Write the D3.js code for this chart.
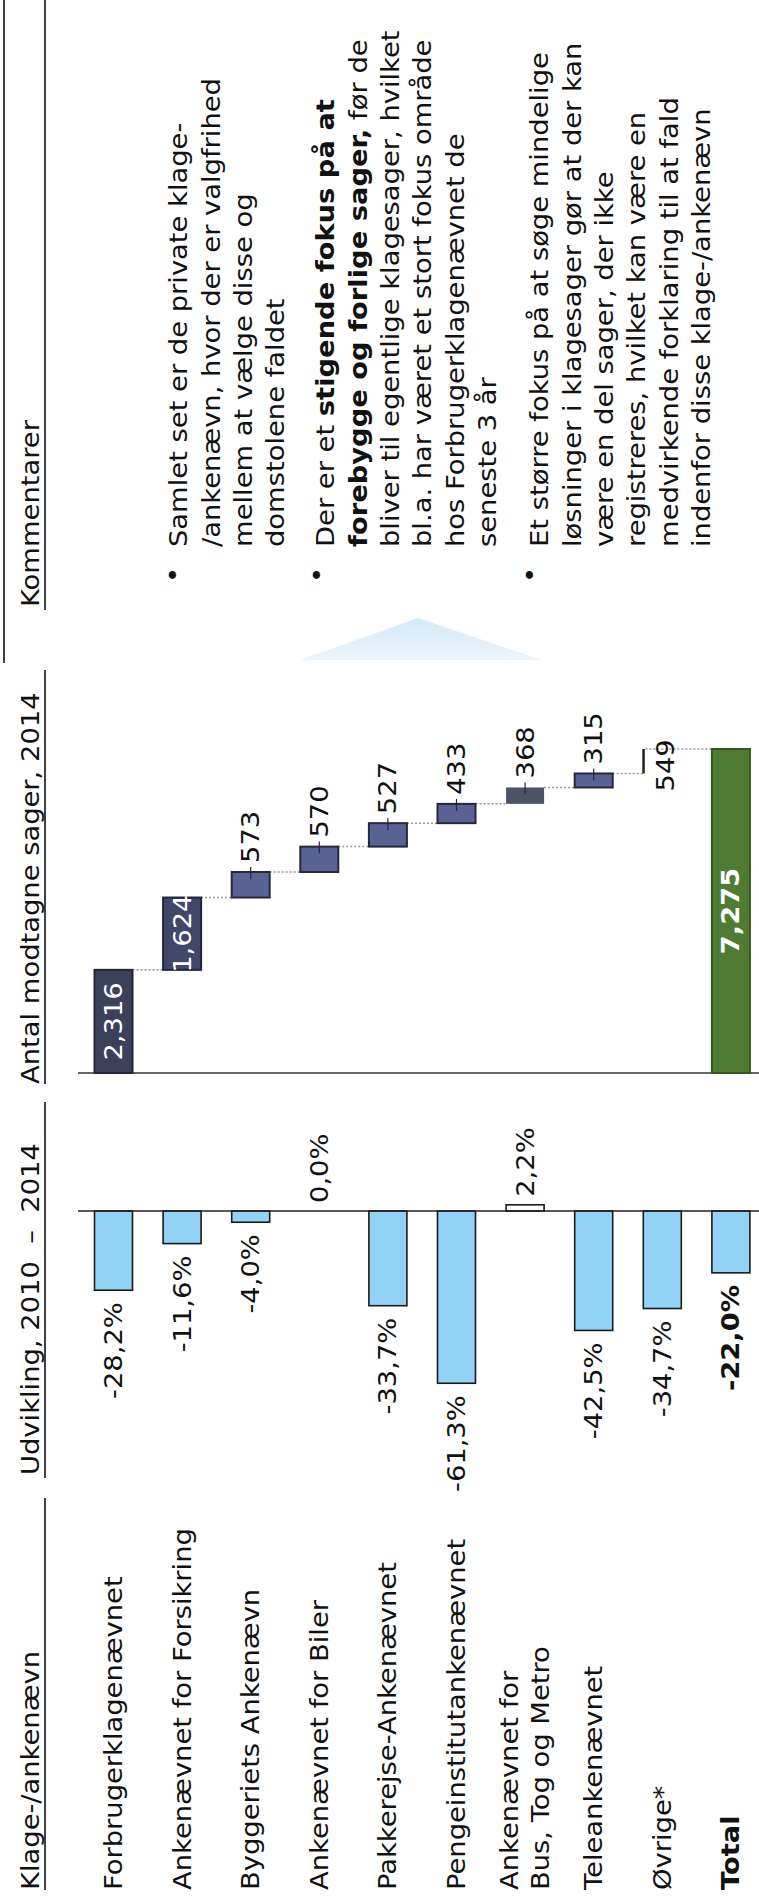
<!DOCTYPE html>
<html><head><meta charset="utf-8">
<script src="https://cdn.jsdelivr.net/npm/d3@7"></script>
<style>body{margin:0;background:#fff}svg{display:block}</style>
</head><body>
<svg id="chart" width="759" height="1899"></svg>
<script>
// ---------------- data ----------------
const categories = ["Forbrugerklagenævnet", "Ankenævnet for Forsikring", "Byggeriets Ankenævn",
  "Ankenævnet for Biler", "Pakkerejse-Ankenævnet", "Pengeinstitutankenævnet",
  "Ankenævnet for\nBus, Tog og Metro", "Teleankenævnet", "Øvrige*", "Total"];
const changePct = [-28.2, -11.6, -4.0, 0.0, -33.7, -61.3, 2.2, -42.5, -34.7, -22.0];
const cases2014 = [2316, 1624, 573, 570, 527, 433, 368, 315, 549, 7275];
const headers = ["Klage-/ankenævn", "Udvikling, 2010  –  2014", "Antal modtagne sager, 2014", "Kommentarer"];
const commentPara1 = [[["Samlet set er de private klage-", 0]], [["/ankenævn, hvor der er valgfrihed", 0]],
  [["mellem at vælge disse og", 0]], [["domstolene faldet", 0]]];
const commentPara2 = [[["Der er et ", 0], ["stigende fokus på at", 1]],
  [["forebygge og forlige sager,", 1], [" før de", 0]],
  [["bliver til egentlige klagesager, hvilket", 0]], [["bl.a. har været et stort fokus område", 0]],
  [["hos Forbrugerklagenævnet de", 0]], [["seneste 3 år", 0]]];
const commentPara3 = [[["Et større fokus på at søge mindelige", 0]], [["løsninger i klagesager gør at der kan", 0]],
  [["være en del sager, der ikke", 0]], [["registreres, hvilket kan være en", 0]],
  [["medvirkende forklaring til at fald", 0]], [["indenfor disse klage-/ankenævn", 0]]];

// ---------------- layout ----------------
const F = 24, SY = 1.14;
const FONT = "'DejaVu Sans', Verdana, sans-serif";
const svg = d3.select("#chart");

const x = d3.scalePoint().domain(categories).range([113.5, 730.9]);
const BW = 38;
const yPct = d3.scaleLinear().domain([-61.3, 0]).range([1211 + 61.3 * 2.81, 1211]);
const yW = d3.scaleLinear().domain([0, 7275]).range([1073, 749]);

const pctLocale = d3.formatLocale({decimal: ",", thousands: ".", grouping: [3], currency: ["", ""], minus: "-"});
const fmtPct = v => pctLocale.format(".1f")(v) + "%";
const fmtN = d3.format(",");

function rtext(g, px, py, segs, o = {}) {
  const t = g.append("text")
    .attr("transform", `translate(${px},${py}) scale(1,${SY}) rotate(-90)`)
    .attr("font-family", FONT).attr("font-size", o.size || F)
    .attr("fill", o.fill || "#111")
    .attr("text-anchor", o.anchor || "start")
    .attr("dy", "0.35em")
    .attr("xml:space", "preserve")
    .style("white-space", "pre");
  if (typeof segs === "string") segs = [[segs, o.bold ? 1 : 0]];
  segs.forEach(s => t.append("tspan").text(s[0]).attr("font-weight", s[1] ? "bold" : "normal"));
  return t;
}

// ---------------- frame lines & headers ----------------
const lines = svg.append("g").attr("stroke", "#111").attr("stroke-width", 1.6);
lines.append("line").attr("x1", 4).attr("x2", 4).attr("y1", 0).attr("y2", 663);
const hdrSpans = [[1890, 1498], [1478, 1102], [1084, 670], [610, 0]];
const hdrStart = [1890, 1475, 1084, 607];
hdrSpans.forEach(s => lines.append("line").attr("x1", 45).attr("x2", 45).attr("y1", s[0]).attr("y2", s[1]));
headers.forEach((h, i) => rtext(svg, 31, hdrStart[i], h));

// ---------------- row labels ----------------
categories.forEach((c, i) => {
  const parts = c.split("\n");
  const cx = x(c);
  parts.forEach((p, j) => {
    const off = (j - (parts.length - 1) / 2) * 31;
    rtext(svg, cx + off, 1890, p, {bold: c === "Total"});
  });
});

// ---------------- % change bars ----------------
const gp = svg.append("g");
gp.selectAll("rect").data(changePct).join("rect")
  .attr("x", (d, i) => x(categories[i]) - BW / 2)
  .attr("width", BW)
  .attr("y", d => Math.min(yPct(d), yPct(0)))
  .attr("height", d => Math.abs(yPct(d) - yPct(0)))
  .attr("fill", d => d > 0 ? "#ffffff" : "#92d2f4")
  .attr("stroke", "#1a1a1a").attr("stroke-width", 1.6)
  .attr("display", d => d === 0 ? "none" : null);
gp.append("line").attr("x1", 78).attr("x2", 759).attr("y1", yPct(0)).attr("y2", yPct(0))
  .attr("stroke", "#222").attr("stroke-width", 1.6);
changePct.forEach((v, i) => {
  const cx = x(categories[i]);
  if (v < 0) rtext(gp, cx, yPct(v) + 12, fmtPct(v), {anchor: "end", bold: categories[i] === "Total"});
  else rtext(gp, cx, yPct(v) - 8, fmtPct(v), {anchor: "start"});
});

// ---------------- waterfall ----------------
const gw = svg.append("g");
let cum = 0;
const steps = cases2014.map((v, i) => {
  if (i === cases2014.length - 1) return {s: 0, e: v, v, i};
  const o = {s: cum, e: cum + v, v, i}; cum += v; return o;
});
const fills = ["#3c405a", "#41466a", "#5a6294", "#5a6294", "#5a6294", "#5a6294", "#4e5364", "#5a6294", "#333", "#4f7b35"];
const strokes = ["#23263a", "#23263a", "#25283a", "#25283a", "#25283a", "#25283a", "none", "#25283a", "none", "#37561f"];
steps.slice(0, -1).forEach((d, i) => {
  const nx = x(categories[i + 1]);
  const cx = x(categories[i]);
  const startX = (i === 8) ? cx - BW / 2 + 2 : cx + BW / 2;
  gw.append("line").attr("x1", startX).attr("x2", nx - BW / 2)
    .attr("y1", yW(d.e)).attr("y2", yW(d.e))
    .attr("stroke", "#9a9a9a").attr("stroke-width", 1.5).attr("stroke-dasharray", "2,2");
});
gw.append("line").attr("x1", 78).attr("x2", 759).attr("y1", yW(0)).attr("y2", yW(0))
  .attr("stroke", "#333").attr("stroke-width", 1.6);
steps.forEach((d, i) => {
  const cx = x(categories[i]);
  if (i === 8) {
    gw.append("rect").attr("x", cx - BW / 2 - 1).attr("width", 2.5)
      .attr("y", yW(d.e)).attr("height", yW(d.s) - yW(d.e)).attr("fill", "#222");
    return;
  }
  gw.append("rect").attr("x", cx - BW / 2).attr("width", BW)
    .attr("y", yW(d.e)).attr("height", yW(d.s) - yW(d.e))
    .attr("fill", fills[i]).attr("stroke", strokes[i]).attr("stroke-width", 2);
  if (i >= 2 && i <= 7) {
    gw.append("line").attr("x1", cx).attr("x2", cx).attr("y1", yW(d.e) - 5).attr("y2", yW(d.e) + 7)
      .attr("stroke", "#25283a").attr("stroke-width", 1.2);
  }
});
steps.forEach((d, i) => {
  const cx = x(categories[i]);
  const h = yW(d.s) - yW(d.e);
  if (h > 60) {
    rtext(gw, cx, (yW(d.s) + yW(d.e)) / 2, fmtN(d.v), {anchor: "middle", fill: "#fff", bold: i === 9});
  } else if (i === 8) {
    rtext(gw, cx + 3, yW(d.s) + 18, fmtN(d.v), {anchor: "start"});
  } else {
    rtext(gw, cx, yW(d.e) - 9, fmtN(d.v), {anchor: "start"});
  }
});

// ---------------- comments ----------------
const defs = svg.append("defs");
const lg = defs.append("linearGradient").attr("id", "tri").attr("x1", 0).attr("y1", 0).attr("x2", 0).attr("y2", 1);
lg.append("stop").attr("offset", 0).attr("stop-color", "#c6e2f4");
lg.append("stop").attr("offset", 1).attr("stop-color", "#e6f2fa");
svg.append("polygon").attr("points", "300,660 542,660 418,618").attr("fill", "url(#tri)").attr("opacity", 0.75);

const gc = svg.append("g");
const paras = [commentPara1, commentPara2, commentPara3];
const paraX = [179, 326, 540];
const bulletX = [174, 318, 531];
const LS = 32.3;
paras.forEach((p, k) => {
  rtext(gc, bulletX[k], 583, "•");
  p.forEach((ln, j) => rtext(gc, paraX[k] + j * LS, 547, ln));
});
</script>
</body></html>
